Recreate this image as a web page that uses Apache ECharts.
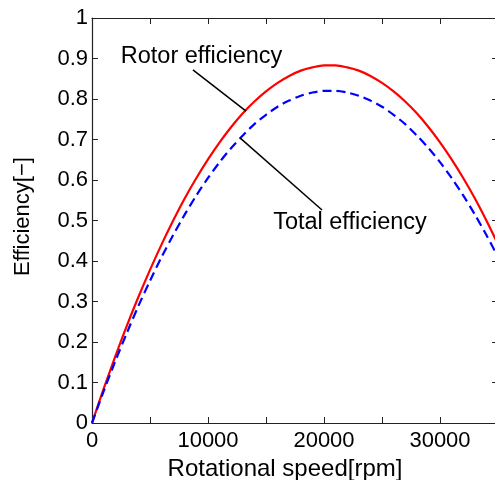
<!DOCTYPE html>
<html>
<head>
<meta charset="utf-8">
<script src="https://cdn.jsdelivr.net/npm/echarts@6/dist/echarts.min.js"></script>
<style>
  html, body { margin: 0; padding: 0; background: #fff; }
  #chart { width: 495px; height: 480px; }
</style>
</head>
<body>
<div id="chart"></div>
<script>
// rotational speed [rpm], one point per 1000 rpm
var speed = [0, 1000, 2000, 3000, 4000, 5000, 6000, 7000, 8000, 9000,
  10000, 11000, 12000, 13000, 14000, 15000, 16000, 17000, 18000, 19000,
  20000, 21000, 22000, 23000, 24000, 25000, 26000, 27000, 28000, 29000,
  30000, 31000, 32000, 33000, 34000, 35000];
var rotorEff = [0, 0.084, 0.164, 0.240, 0.311, 0.378, 0.441, 0.500, 0.555, 0.605,
  0.651, 0.693, 0.731, 0.765, 0.794, 0.819, 0.840, 0.857, 0.870, 0.878,
  0.883, 0.883, 0.878, 0.870, 0.857, 0.840, 0.819, 0.794, 0.765, 0.731,
  0.693, 0.651, 0.605, 0.555, 0.500, 0.441];
var totalEff = [0, 0.078, 0.152, 0.222, 0.289, 0.351, 0.410, 0.464, 0.515, 0.562,
  0.605, 0.644, 0.679, 0.710, 0.738, 0.761, 0.781, 0.796, 0.808, 0.816,
  0.820, 0.820, 0.816, 0.808, 0.796, 0.781, 0.761, 0.738, 0.710, 0.679,
  0.644, 0.605, 0.562, 0.515, 0.464, 0.410];
var yTicks = ['0', '0.1', '0.2', '0.3', '0.4', '0.5', '0.6', '0.7', '0.8', '0.9', '1'];

// annotation text + leader lines, in data coords
var rotorLabel = { text: 'Rotor efficiency', at: [9440, 0.905], line: [[8700, 0.872], [13280, 0.77]] };
var totalLabel = { text: 'Total efficiency', at: [22240, 0.494], line: [[12760, 0.704], [19830, 0.526]] };

function pairs(xs, ys) {
  var out = [];
  for (var i = 0; i < xs.length; i++) out.push([xs[i], ys[i]]);
  return out;
}

var font = 'Liberation Sans, Arial, Helvetica, sans-serif';
var axisColor = '#222';

function annot(a) {
  return {
    markLine: {
      silent: true,
      symbol: ['none', 'none'],
      lineStyle: { color: '#000', width: 1.5, type: 'solid' },
      label: { show: false },
      data: [[{ coord: a.line[0] }, { coord: a.line[1] }]]
    },
    markPoint: {
      silent: true,
      symbolSize: 0,
      label: {
        show: true, position: 'inside', formatter: a.text,
        color: '#000', fontSize: 23.5, fontFamily: font
      },
      data: [{ coord: a.at }]
    }
  };
}

var chart = echarts.init(document.getElementById('chart'));
var option = {
  animation: false,
  grid: { left: 92, top: 18, right: -3, bottom: 57, containLabel: false, outerBoundsMode: 'none' },
  xAxis: [
    {
      type: 'value', min: 0, max: 35000, interval: 5000,
      name: 'Rotational speed[rpm]', nameLocation: 'middle', nameGap: 34,
      nameTextStyle: { fontSize: 24, color: '#000', fontFamily: font, padding: [0, 20, 0, 0] },
      axisLine: { onZero: false, lineStyle: { color: axisColor, width: 1.2 } },
      axisTick: { inside: true, length: 6, lineStyle: { color: axisColor } },
      axisLabel: {
        fontSize: 22, color: '#000', fontFamily: font, margin: 7,
        formatter: function (v) { return v % 10000 === 0 ? String(v) : ''; }
      },
      splitLine: { show: false }
    },
    {
      type: 'value', min: 0, max: 35000, interval: 5000, position: 'top',
      axisLine: { show: true, onZero: false, lineStyle: { color: axisColor, width: 1.2 } },
      axisTick: { inside: true, length: 6, lineStyle: { color: axisColor } },
      axisLabel: { show: false },
      splitLine: { show: false }
    }
  ],
  yAxis: [
    {
      type: 'value', min: 0, max: 1, interval: 0.1,
      name: 'Efficiency[\u2212]', nameLocation: 'middle', nameGap: 58,
      nameTextStyle: { fontSize: 22, color: '#000', fontFamily: font, padding: [0, 0, 0, 8] },
      axisLine: { show: true, onZero: false, lineStyle: { color: axisColor, width: 1.2 } },
      axisTick: { show: true, inside: true, length: 6, lineStyle: { color: axisColor } },
      axisLabel: {
        fontSize: 22, color: '#000', fontFamily: font, margin: 4,
        formatter: function (v) { return yTicks[Math.round(v * 10)]; }
      },
      splitLine: { show: false }
    },
    {
      type: 'value', min: 0, max: 1, interval: 0.1, position: 'right',
      axisLine: { show: true, onZero: false, lineStyle: { color: axisColor, width: 1.2 } },
      axisTick: { show: true, inside: true, length: 6, lineStyle: { color: axisColor } },
      axisLabel: { show: false },
      splitLine: { show: false }
    }
  ],
  series: [
    Object.assign({
      name: 'Rotor efficiency', type: 'line', smooth: 0.3, showSymbol: false,
      lineStyle: { color: '#ff0000', width: 2.2 },
      data: pairs(speed, rotorEff)
    }, annot(rotorLabel)),
    Object.assign({
      name: 'Total efficiency', type: 'line', smooth: 0.3, showSymbol: false,
      lineStyle: { color: '#0000ff', width: 2.2, type: [9, 5] },
      data: pairs(speed, totalEff)
    }, annot(totalLabel))
  ]
};
chart.setOption(option);
</script>
</body>
</html>
